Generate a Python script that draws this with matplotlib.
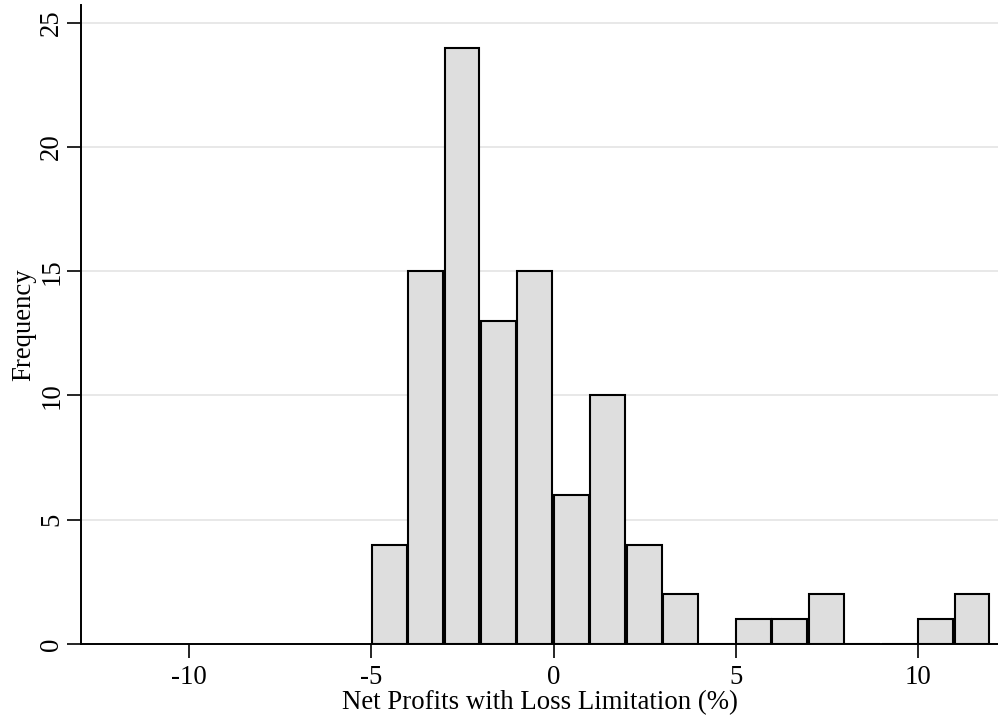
import numpy as np
import matplotlib.pyplot as plt

plt.rcParams["font.family"] = ["Liberation Serif", "DejaVu Serif"]

# histogram bins (left edges) and counts
bin_left = [-5, -4, -3, -2, -1, 0, 1, 2, 3, 4, 5, 6, 7, 8, 9, 10, 11]
counts = [4, 15, 24, 13, 15, 6, 10, 4, 2, 0, 1, 1, 2, 0, 0, 1, 2]
bin_width = 1.0

x_ticks = [-10, -5, 0, 5, 10]
y_ticks = [0, 5, 10, 15, 20, 25]

fig = plt.figure(figsize=(9.98, 7.19), dpi=100)
ax = fig.add_axes([0.0812, 0.1043, 0.9188, 0.889])

for y in y_ticks[1:]:
    ax.axhline(y, color="#e8e8e8", linewidth=1.4, zorder=0)

# Stata-style bars: each bar has its own outline with a tiny gap
edges = np.array(bin_left, dtype=float)
bar_w = bin_width * 0.955
ax.bar(edges + 0.01, counts, width=bar_w, align="edge",
       color="#dedede", edgecolor="black", linewidth=1.5, zorder=2)

ax.set_xlim(-12.97, 12.2)
ax.set_ylim(0, 25.72)

ax.set_xticks(x_ticks)
ax.set_yticks(y_ticks)
ax.set_xticklabels([str(t) for t in x_ticks])
ax.set_yticklabels([str(t) for t in y_ticks], rotation=90, va="center")
ax.tick_params(axis="both", direction="out", length=10, width=1.2,
               labelsize=19.3, color="black")
ax.tick_params(axis="x", pad=5)
ax.tick_params(axis="y", pad=2)

for side in ["top", "right"]:
    ax.spines[side].set_visible(False)
for side in ["left", "bottom"]:
    ax.spines[side].set_linewidth(1.4)

ax.set_xlabel("Net Profits with Loss Limitation (%)", fontsize=19.3, labelpad=0)
ax.set_ylabel("Frequency", fontsize=19.3, labelpad=2)

fig.savefig("out.png", dpi=100)
